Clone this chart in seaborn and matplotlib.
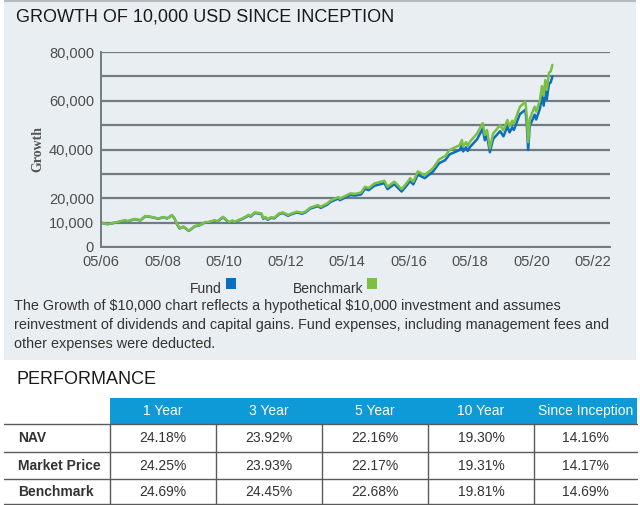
import matplotlib
matplotlib.use("Agg")
import matplotlib.pyplot as plt
import matplotlib.dates as mdates
from matplotlib.patches import Rectangle
import pandas as pd
import seaborn as sns

# growth of 10,000
dates = [
    "2006-05-01", "2006-07-15", "2006-10-15", "2007-02-15", "2007-03-10", "2007-06-01",
    "2007-08-10", "2007-10-10", "2007-12-15", "2008-03-10", "2008-05-15", "2008-06-25",
    "2008-08-20", "2008-09-20", "2008-10-15", "2008-11-20", "2009-01-05", "2009-03-09",
    "2009-05-20", "2009-07-10", "2009-09-15", "2009-11-01", "2010-01-15", "2010-02-08",
    "2010-04-20", "2010-05-25", "2010-07-02", "2010-08-10", "2010-08-30", "2010-12-10",
    "2011-02-18", "2011-03-15", "2011-04-30", "2011-07-20", "2011-08-10", "2011-09-05",
    "2011-10-03", "2011-11-10", "2011-12-20", "2012-02-15", "2012-04-01", "2012-06-01",
    "2012-07-15", "2012-09-15", "2012-11-15", "2012-12-31", "2013-02-15", "2013-05-20",
    "2013-06-24", "2013-09-15", "2013-10-15", "2014-01-20", "2014-02-05", "2014-04-15",
    "2014-06-10", "2014-08-05", "2014-10-15", "2014-12-01", "2015-01-15", "2015-03-25",
    "2015-07-20", "2015-08-25", "2015-11-15", "2016-02-10", "2016-04-15", "2016-05-20",
    "2016-06-27", "2016-08-20", "2016-11-10", "2017-02-15", "2017-05-01", "2017-07-10",
    "2017-09-01", "2017-12-31", "2018-01-26", "2018-02-08", "2018-03-15", "2018-04-05",
    "2018-05-01", "2018-07-25", "2018-09-30", "2018-10-25", "2018-11-20", "2018-12-24",
    "2019-01-31", "2019-04-25", "2019-06-03", "2019-07-20", "2019-08-15", "2019-09-15",
    "2019-10-05", "2019-12-15", "2020-02-19", "2020-03-05", "2020-03-23", "2020-04-10",
    "2020-06-08", "2020-06-26", "2020-08-10", "2020-09-02", "2020-09-23", "2020-10-12",
    "2020-10-30", "2020-11-25", "2020-12-15", "2021-01-05",
]
benchmark = [
    10000, 9400, 10000, 11000, 10600, 11500,
    11000, 12700, 12400, 11700, 12300, 11800,
    13100, 11800, 9700, 7700, 8400, 6700,
    8600, 8900, 10100, 10300, 11000, 10500,
    12400, 11300, 10200, 10900, 10300, 11800,
    13200, 12700, 14200, 13800, 11800, 12300,
    11400, 12200, 12000, 13800, 14200, 13100,
    13800, 14500, 14000, 14700, 16100, 17200,
    16500, 18000, 19000, 20500, 19800, 21000,
    22000, 21800, 22300, 24700, 24200, 26100,
    27200, 24700, 26800, 23700, 26500, 28200,
    26800, 31000, 29500, 32300, 36000, 37300,
    39800, 41800, 43900, 41200, 43000, 41500,
    43200, 46600, 50800, 46000, 48000, 40500,
    46500, 50000, 47800, 52100, 49500, 51800,
    50600, 57500, 59600, 54000, 43000, 52500,
    57600, 55500, 60300, 66000, 62000, 68500,
    64500, 71500, 72000, 74700,
]
fund = [
    10000, 9350, 9950, 10900, 10500, 11400,
    10900, 12600, 12300, 11600, 12200, 11700,
    13000, 11700, 9600, 7600, 8300, 6600,
    8500, 8800, 10000, 10150, 10850, 10350,
    12200, 11100, 10000, 10700, 10100, 11600,
    12950, 12450, 13950, 13550, 11550, 12050,
    11150, 11950, 11750, 13500, 13900, 12800,
    13500, 14150, 13650, 14350, 15700, 16750,
    16050, 17500, 18450, 19900, 19200, 20350,
    21300, 21100, 21550, 23850, 23350, 25150,
    26200, 23750, 25750, 22750, 25450, 27050,
    25700, 29700, 28250, 30900, 34400, 35600,
    38000, 39800, 41800, 39200, 40900, 39400,
    41000, 44200, 48600, 43800, 45700, 38900,
    44300, 47500, 45400, 49400, 47000, 49100,
    48000, 54500, 56300, 51000, 39800, 49600,
    54300, 52300, 56800, 62000, 58000, 64200,
    60500, 67000, 67500, 69900,
]

tick_years = [2006, 2008, 2010, 2012, 2014, 2016, 2018, 2020, 2022]
y_ticks = [0, 10000, 20000, 30000, 40000, 50000, 60000, 70000, 80000]
y_labels = ["0", "10,000", "20,000", "", "40,000", "", "60,000", "", "80,000"]

perf_columns = ["1 Year", "3 Year", "5 Year", "10 Year", "Since Inception"]
perf_rows = ["NAV", "Market Price", "Benchmark"]
nav_perf = ["24.18%", "23.92%", "22.16%", "19.30%", "14.16%"]
market_perf = ["24.25%", "23.93%", "22.17%", "19.31%", "14.17%"]
bench_perf = ["24.69%", "24.45%", "22.68%", "19.81%", "14.69%"]

note_lines = [
    "The Growth of $10,000 chart reflects a hypothetical $10,000 investment and assumes",
    "reinvestment of dividends and capital gains. Fund expenses, including management fees and",
    "other expenses were deducted.",
]

FUND_BLUE = "#0b6ebf"
BENCH_GREEN = "#7bc043"
GRID = "#6f7c82"
PANEL = "#e9eef2"

sns.set_style("white")
plt.rcParams["font.family"] = ["Liberation Sans", "DejaVu Sans"]

df = pd.DataFrame({"date": pd.to_datetime(dates), "Fund": fund, "Benchmark": benchmark})
long_df = df.melt(id_vars="date", var_name="series", value_name="growth")

fig = plt.figure(figsize=(6.4, 5.05), dpi=100)
fig.patch.set_facecolor("white")

# background layer in pixel coordinates (panel, legend, note, table)
bg = fig.add_axes([0, 0, 1, 1], zorder=0)
bg.set_xlim(0, 640)
bg.set_ylim(505, 0)
bg.axis("off")
bg.add_patch(Rectangle((4, 0), 632, 360, color=PANEL, lw=0))
bg.add_patch(Rectangle((4, 0), 632, 2, color="#b5bbc0", lw=0))

bg.text(16, 17, "GROWTH OF 10,000 USD SINCE INCEPTION", fontsize=13,
        color="#1a1a1a", va="center", ha="left")

# legend
bg.text(222, 289, "Fund", fontsize=10, color="#333333", va="center", ha="right")
bg.add_patch(Rectangle((226, 278), 10, 11, color=FUND_BLUE, lw=0))
bg.text(363, 289, "Benchmark", fontsize=10, color="#333333", va="center", ha="right")
bg.add_patch(Rectangle((367, 278), 10, 11, color=BENCH_GREEN, lw=0))

for i, line in enumerate(note_lines):
    bg.text(14, 306 + i * 19, line, fontsize=10.35, color="#333333", va="center",
            ha="left", parse_math=False)

# performance table
bg.text(16, 380, "PERFORMANCE", fontsize=13, color="#1a1a1a", va="center", ha="left")
col_edges = [110, 216, 322, 428, 534, 637]
row_edges = [424, 452, 479, 504]
bg.add_patch(Rectangle((col_edges[0], 398), col_edges[-1] - col_edges[0], row_edges[0] - 398,
                       color="#0d9ad7", lw=0))
for j, name in enumerate(perf_columns):
    cx = (col_edges[j] + col_edges[j + 1]) / 2
    bg.text(cx, 411, name, fontsize=10, color="white", va="center", ha="center")
for y in row_edges:
    bg.plot([4, 637], [y, y], color="#5a5a5a", lw=1)
for x in col_edges[:-1]:
    bg.plot([x, x], [row_edges[0], row_edges[-1]], color="#5a5a5a", lw=1)
for i, (label, vals) in enumerate(zip(perf_rows, [nav_perf, market_perf, bench_perf])):
    cy = (row_edges[i] + row_edges[i + 1]) / 2
    bg.text(18, cy, label, fontsize=10, fontweight="bold", color="#333333", va="center", ha="left")
    for j, v in enumerate(vals):
        cx = (col_edges[j] + col_edges[j + 1]) / 2
        bg.text(cx, cy, v, fontsize=10, color="#333333", va="center", ha="center")

# growth chart
ax = fig.add_axes([101 / 640, 1 - 247 / 505, 509 / 640, 195 / 505], zorder=2)
ax.set_facecolor("none")
sns.lineplot(data=long_df, x="date", y="growth", hue="series",
             hue_order=["Fund", "Benchmark"],
             palette={"Fund": FUND_BLUE, "Benchmark": BENCH_GREEN},
             estimator=None, lw=1.8, legend=False, ax=ax)

ax.set_xlim(pd.Timestamp("2006-05-01"), pd.Timestamp("2022-11-20"))
ax.set_ylim(0, 80000)
ax.set_yticks(y_ticks)
ax.set_yticklabels(y_labels)
ax.set_xticks([pd.Timestamp(f"{y}-05-01") for y in tick_years])
ax.xaxis.set_major_formatter(mdates.DateFormatter("%m/%y"))
ax.yaxis.grid(True, color=GRID, lw=1.6)
ax.xaxis.grid(False)
ax.set_axisbelow(True)
for side in ["top", "right"]:
    ax.spines[side].set_visible(False)
for side in ["left", "bottom"]:
    ax.spines[side].set_color(GRID)
    ax.spines[side].set_linewidth(1.4)
ax.tick_params(axis="y", length=0, pad=5, labelsize=10.5, labelcolor="#4d4d4d")
ax.tick_params(axis="x", length=4.5, width=1, color=GRID, pad=1.5,
               labelsize=10.5, labelcolor="#4d4d4d")
ax.set_xlabel("")
ax.set_ylabel("")
fig.text(38 / 640, 1 - 149 / 505, "Growth", rotation=90, fontsize=10,
         fontweight="bold", family="Liberation Serif", color="#555555",
         va="center", ha="center")

fig.savefig("out.png", dpi=100)
